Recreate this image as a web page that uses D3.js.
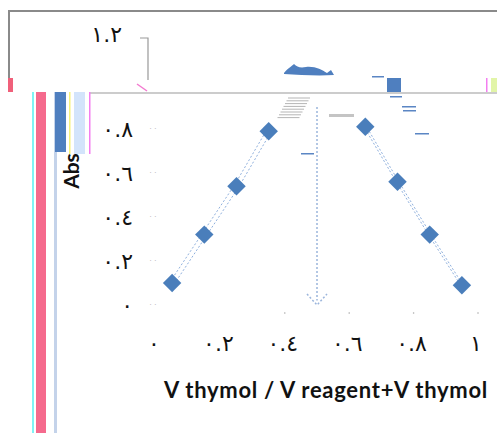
<!DOCTYPE html>
<html>
<head>
<meta charset="utf-8">
<script src="https://cdn.jsdelivr.net/npm/d3@7"></script>
<style>
  body { margin: 0; background: #fff; }
  svg { display: block; }
</style>
</head>
<body>
<svg class="job" width="497" height="433"></svg>
<script>
// branch readings (fraction of thymol vs absorbance)
var leftX = [0.05, 0.15, 0.25, 0.35];
var leftAbs = [0.10, 0.32, 0.54, 0.79];
var rightX = [0.65, 0.75, 0.85, 0.95];
var rightAbs = [0.81, 0.56, 0.32, 0.09];

var xTicks = [0, 0.2, 0.4, 0.6, 0.8, 1];
var xTickLabels = ["٠", "٠.٢", "٠.٤", "٠.٦", "٠.٨", "١"];
var yTicks = [0, 0.2, 0.4, 0.6, 0.8, 1.2];
var yTickLabels = ["٠", "٠.٢", "٠.٤", "٠.٦", "٠.٨", "١.٢"];

var svg = d3.select(".job");

var x = d3.scaleLinear().domain([0, 1]).range([156, 478]);
var y = d3.scaleLinear().domain([0, 1.2]).range([305, 41]);

// frame bits
svg.append("path").attr("d", "M9,78V11H497")
    .attr("fill", "none").attr("stroke", "#8a8a8a").attr("stroke-width", 2);
svg.append("rect").attr("x", 8).attr("y", 78).attr("width", 5).attr("height", 14).attr("fill", "#f0607a");
svg.append("line").attr("x1", 90).attr("x2", 497).attr("y1", 93).attr("y2", 93)
    .attr("stroke", "#bbb").attr("stroke-width", 1.5);

// stripes at the left
svg.append("rect").attr("x", 32).attr("y", 92).attr("width", 2).attr("height", 341).attr("fill", "#7ff3f5");
svg.append("rect").attr("x", 36).attr("y", 92).attr("width", 10).attr("height", 341).attr("fill", "#f56a8d");
svg.append("rect").attr("x", 54).attr("y", 92).attr("width", 3).attr("height", 341).attr("fill", "#c4d3ea");
svg.append("rect").attr("x", 55).attr("y", 92).attr("width", 11).attr("height", 60).attr("fill", "#4f7fbf");
svg.append("rect").attr("x", 69).attr("y", 92).attr("width", 1.5).attr("height", 62).attr("fill", "#f6f27a");
svg.append("rect").attr("x", 74).attr("y", 92).attr("width", 11).attr("height", 62).attr("fill", "#d3e4fb");
svg.append("rect").attr("x", 89).attr("y", 92).attr("width", 1.5).attr("height", 62).attr("fill", "#f37ef0");

// smudges near the top
svg.append("path")
    .attr("d", "M284,73 C288,68 292,66 294,64 C297,67 300,68 306,67 C315,66 322,70 327,73 L331,70 L334,75 C318,76 300,75 284,74Z")
    .attr("fill", "#4f7fbf");
svg.append("rect").attr("x", 387).attr("y", 78).attr("width", 14).attr("height", 14).attr("fill", "#4f7fbf");
[[372, 76, 12], [390, 96, 12], [402, 106, 14], [403, 110, 13], [415, 133, 14], [301, 153, 13]].forEach(function(d) {
  svg.append("rect").attr("x", d[0]).attr("y", d[1]).attr("width", d[2]).attr("height", 1.5).attr("fill", "#5b86c4");
});
svg.append("rect").attr("x", 486).attr("y", 78).attr("width", 1.5).attr("height", 14).attr("fill", "#f37ef0");
svg.append("rect").attr("x", 491).attr("y", 78).attr("width", 6).attr("height", 14).attr("fill", "#e2f5a8");
svg.append("path").attr("d", "M140,38H148V80").attr("fill", "none").attr("stroke", "#999").attr("stroke-width", 1.2);
svg.append("path").attr("d", "M137,84L147,91").attr("stroke", "#f37ad0").attr("stroke-width", 1.5);
for (var i = 0; i < 8; i++) {
  svg.append("line").attr("x1", 288 - i * 1.5).attr("x2", 310 - i * 1.5)
      .attr("y1", 98 + i * 2.8).attr("y2", 98 + i * 2.8)
      .attr("stroke", "#b5b5b5").attr("stroke-width", 1);
}
svg.append("rect").attr("x", 329).attr("y", 114).attr("width", 25).attr("height", 3).attr("fill", "#c4c4c4");

// axis ticks (faint dots)
svg.selectAll(".yt").data(yTicks.slice(0, 5)).enter().append("text")
    .attr("x", 153).attr("y", function(d) { return y(d) + 2; })
    .attr("text-anchor", "middle").attr("font-size", 8).attr("fill", "#aaa").text("· ·");
svg.selectAll(".xt").data(xTicks.slice(2)).enter().append("circle")
    .attr("cx", function(d) { return x(d); }).attr("cy", 313).attr("r", 0.8).attr("fill", "#aaa");

// tick labels
svg.selectAll(".yl").data(yTicks).enter().append("text")
    .attr("x", function(d) { return d > 1 ? 122 : 133; })
    .attr("y", function(d, i) { return y(d) + (d > 1 ? 1 : 8); })
    .attr("text-anchor", "end")
    .attr("font-family", "DejaVu Sans").attr("font-size", 22).attr("fill", "#111")
    .text(function(d, i) { return yTickLabels[i]; });

svg.selectAll(".xl").data(xTicks).enter().append("text")
    .attr("x", function(d) { return x(d) - 2; })
    .attr("y", 351)
    .attr("text-anchor", "middle")
    .attr("font-family", "DejaVu Sans").attr("font-size", 22).attr("fill", "#111")
    .text(function(d, i) { return xTickLabels[i]; });

// axis titles
svg.append("text").attr("x", 326).attr("y", 398).attr("text-anchor", "middle")
    .attr("font-family", "Lato").attr("font-weight", 700).attr("font-size", 22)
    .attr("letter-spacing", 0.7).attr("fill", "#111")
    .text("V thymol / V reagent+V thymol");
svg.append("text").attr("transform", "translate(79,171) rotate(-90)").attr("text-anchor", "middle")
    .attr("font-family", "Lato").attr("font-weight", 700).attr("font-size", 21).attr("fill", "#111")
    .text("Abs");

// dashed guide at the mid point
svg.append("line").attr("x1", x(0.5)).attr("x2", x(0.5)).attr("y1", y(0.9)).attr("y2", y(0.02))
    .attr("stroke", "#9bb5dc").attr("stroke-width", 1.5).attr("stroke-dasharray", "2,2");
svg.append("path")
    .attr("d", "M" + (x(0.5) - 10) + "," + (y(0.05)) + "L" + x(0.5) + "," + y(0) + "L" + (x(0.5) + 10) + "," + y(0.05))
    .attr("fill", "none").attr("stroke", "#9bb5dc").attr("stroke-width", 1.5).attr("stroke-dasharray", "2,2");

// branch lines (drawn as a double dashed stroke)
var line = d3.line().x(function(d) { return x(d[0]); }).y(function(d) { return y(d[1]); });
var leftPts = d3.zip(leftX, leftAbs);
var rightPts = d3.zip(rightX, rightAbs);

[leftPts, rightPts].forEach(function(pts) {
  [-2, 2].forEach(function(off) {
    svg.append("path").datum(pts)
        .attr("transform", "translate(" + off + "," + (off * 0.6) + ")")
        .attr("fill", "none")
        .attr("stroke", "#8fb0dd")
        .attr("stroke-width", 1)
        .attr("stroke-dasharray", "2,2")
        .attr("d", line);
  });
});

// diamonds
svg.selectAll(".pt").data(leftPts.concat(rightPts)).enter().append("path")
    .attr("d", d3.symbol().type(d3.symbolSquare).size(170))
    .attr("transform", function(d) { return "translate(" + x(d[0]) + "," + y(d[1]) + ") rotate(45)"; })
    .attr("fill", "#4a7ebb");
</script>
</body>
</html>
